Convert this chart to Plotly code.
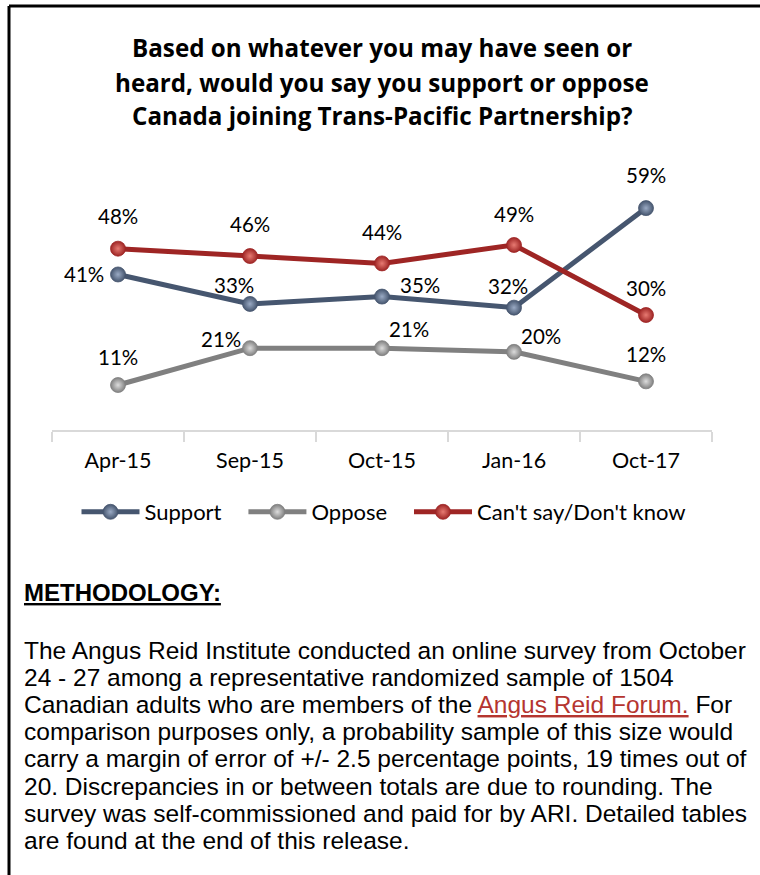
import plotly.graph_objects as go

# Survey waves and results (percent)
periods = ["Apr-15", "Sep-15", "Oct-15", "Jan-16", "Oct-17"]
support = [41, 33, 35, 32, 59]
oppose = [11, 21, 21, 20, 12]
cant_say = [48, 46, 44, 49, 30]

title_lines = [
    "Based on whatever you may have seen or",
    "heard, would you say you support or oppose",
    "Canada joining Trans-Pacific Partnership?",
]

method_heading = "METHODOLOGY:"
method_lines = [
    "The Angus Reid Institute conducted an online survey from October",
    "24 - 27 among a representative randomized sample of 1504",
    "Canadian adults who are members of the "
    "<span style='color:#b5352f'><u>Angus Reid Forum.</u></span> For",
    "comparison purposes only, a probability sample of this size would",
    "carry a margin of error of +/- 2.5 percentage points, 19 times out of",
    "20. Discrepancies in or between totals are due to rounding. The",
    "survey was self-commissioned and paid for by ARI. Detailed tables",
    "are found at the end of this release.",
]

W, H = 760, 875


def fx(p):
    return p / W


def fy(p):
    return 1 - p / H


CHART_FONT = "Lato, Calibri, Carlito, sans-serif"
TITLE_FONT = "Open Sans, Calibri, sans-serif"
TEXT_FONT = "Liberation Sans, Arial, sans-serif"

# Padding after a legend label to widen the gap before the next entry
LEGEND_PAD = "\u00a0\u00a0\u00a0"

# name, values, line colour, highlight colour, label offsets (dx, dy up), pad
series = [
    ("Support", support, "#46566f", "#9aaac4",
     [(-34, 0), (-16, 19), (38, 12), (-6, 22), (0, 33)], LEGEND_PAD),
    ("Oppose", oppose, "#808080", "#dcdcdc",
     [(0, 28), (-29, 9), (27, 19), (27, 16), (0, 27)], LEGEND_PAD),
    ("Can't say/Don't know", cant_say, "#9e2524", "#e77a72",
     [(0, 33), (0, 32), (0, 31), (0, 31), (0, 27)], ""),
]

fig = go.Figure()
annotations = []

for name, vals, col, hi, offs, pad in series:
    fig.add_trace(go.Scatter(
        x=periods, y=vals, name=name + pad, mode="lines+markers",
        line=dict(color=col, width=5),
        marker=dict(size=15, color=col,
                    gradient=dict(type="radial", color=hi),
                    line=dict(width=0.8, color=col)),
        hoverinfo="skip",
    ))
    for p, v, (dx, dy) in zip(periods, vals, offs):
        annotations.append(dict(
            x=p, y=v, xref="x", yref="y", text=f"{v}%", showarrow=False,
            xshift=dx, yshift=dy, xanchor="center", yanchor="middle",
            font=dict(family=CHART_FONT, size=20.5, color="#000000"),
        ))

# Title, one line per annotation
for i, line in enumerate(title_lines):
    annotations.append(dict(
        x=fx(382), y=fy(48 + 34 * i), xref="paper", yref="paper",
        text=f"<b>{line}</b>", showarrow=False,
        xanchor="center", yanchor="middle",
        font=dict(family=TITLE_FONT, size=24.2, color="#000000"),
    ))

# Methodology block
annotations.append(dict(
    x=fx(22), y=fy(592), xref="paper", yref="paper",
    text=f"<b><u>{method_heading}</u></b>", showarrow=False,
    xanchor="left", yanchor="middle",
    font=dict(family=TEXT_FONT, size=24, color="#000000"),
))
for i, line in enumerate(method_lines):
    annotations.append(dict(
        x=fx(22), y=fy(650 + 27.2 * i), xref="paper", yref="paper",
        text=line, showarrow=False, xanchor="left", yanchor="middle",
        font=dict(family=TEXT_FONT, size=24.5, color="#000000"),
    ))

# Frame lines along the top and left edges
shapes = [
    dict(type="line", xref="paper", yref="paper",
         x0=fx(9), x1=1, y0=fy(6), y1=fy(6),
         line=dict(color="#000000", width=3)),
    dict(type="line", xref="paper", yref="paper",
         x0=fx(9), x1=fx(9), y0=fy(6), y1=0,
         line=dict(color="#000000", width=3)),
]

fig.update_layout(
    width=W, height=H,
    margin=dict(l=0, r=0, t=0, b=0),
    paper_bgcolor="#ffffff", plot_bgcolor="#ffffff",
    showlegend=True,
    legend=dict(
        orientation="h", x=fx(384), xanchor="center",
        y=fy(512), yanchor="middle",
        font=dict(family=CHART_FONT, size=22, color="#000000"),
        itemwidth=58, tracegroupgap=0,
    ),
    xaxis=dict(
        type="category", domain=[fx(52), fx(712)], range=[-0.5, 4.5],
        showline=True, linecolor="#d9d9d9", linewidth=1.5,
        ticks="outside", tickson="boundaries", ticklen=10,
        tickcolor="#d9d9d9", tickwidth=1.5,
        showgrid=False, zeroline=False,
        tickfont=dict(family=CHART_FONT, size=21.5, color="#000000"),
        ticklabelstandoff=10,
        fixedrange=True,
    ),
    yaxis=dict(
        range=[-1.2, 70.7], domain=[fy(430), fy(165)],
        visible=False, showgrid=False, zeroline=False, fixedrange=True,
    ),
    annotations=annotations,
    shapes=shapes,
)

fig.write_html("out.html")
